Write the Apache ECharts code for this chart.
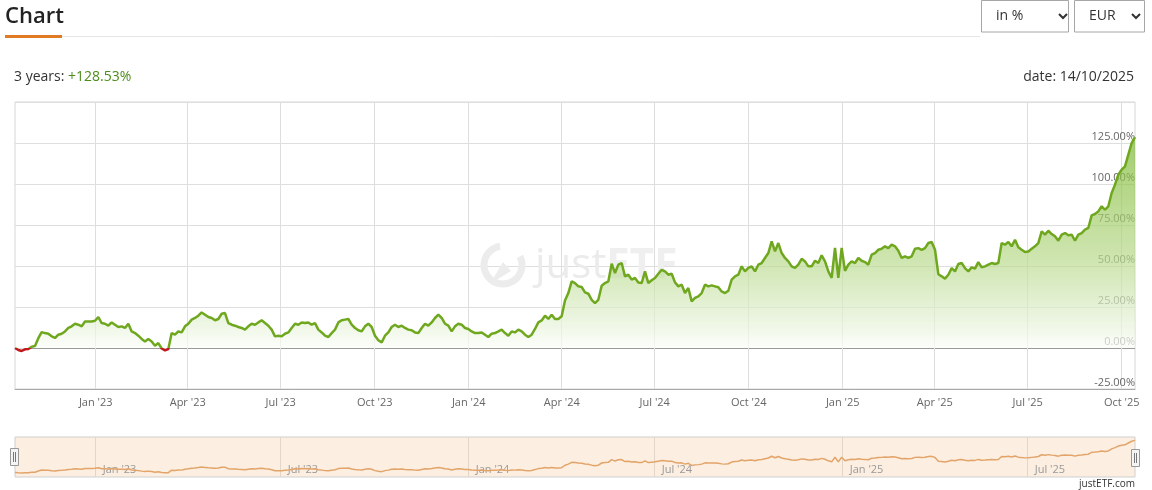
<!DOCTYPE html>
<html><head><meta charset="utf-8">
<script src="https://cdn.jsdelivr.net/npm/echarts@6/dist/echarts.min.js"></script>
<style>html,body{margin:0;padding:0;background:#fff;}#c{width:1152px;height:490px;}</style>
</head><body><div id="c"></div>
<script>
// ---- data ----
const startDate = '2022-10-14';
const endDate = '2025-10-14';
const periodLabel = '3 years';
const periodReturn = '+128.53%';
const dateLabel = '14/10/2025';
const selectLabels = ['in %', 'EUR'];

// cumulative performance in %, sampled evenly from startDate to endDate
const perfValues = [
  0, -1.2, -1.8, -0.8, -0.6, 0.8, 1.2, 6, 9.7, 9.1,
  8.7, 7.1, 6.1, 8.1, 8.7, 10.1, 12.2, 13.2, 14.8, 14.2,
  13.2, 16.2, 16.2, 16.2, 16.6, 18.9, 15.2, 14.8, 13.6, 15.6,
  14.2, 12.8, 13.2, 12.2, 14.8, 10.1, 9.1, 7.5, 5.5, 4,
  5.5, 4, 1.4, 3, -0.3, -1.4, -0.6, 9.1, 8.1, 10.1,
  9.5, 13.2, 14.8, 17.3, 18.3, 19.7, 21.7, 20.3, 18.9, 18.3,
  16.9, 17.7, 20.9, 21.3, 15.2, 14.2, 13.6, 12.8, 12.2, 11.2,
  13.2, 14.8, 14.2, 15.6, 16.9, 15.2, 13.6, 11.2, 7.1, 7.5,
  7.1, 8.7, 9.5, 12.2, 14.8, 14.2, 15.6, 15.2, 15.6, 14.2,
  15.2, 11.2, 9.5, 7.5, 6.7, 9.1, 11.2, 15.6, 16.9, 17.3,
  17.7, 14.2, 12.2, 10.8, 10.1, 13.2, 14.8, 12.8, 7.5, 4.7,
  3.4, 7.5, 9.5, 12.8, 14.2, 12.8, 13.6, 12.2, 11.2, 10.8,
  9.5, 9.1, 12.2, 14.8, 13.6, 15.6, 18.3, 20.3, 18.3, 14.8,
  13.6, 10.1, 13.2, 14.8, 14.2, 12.2, 11.6, 10.1, 9.1,
  9.1, 9.5, 8.1, 6.7, 8.7, 9.1, 10.1, 11.2, 9.1, 7.5,
  10.1, 9.5, 11.2, 10.1, 8.1, 6.7, 8.1, 11.6, 15.6, 16.8,
  19.7, 17.7, 20.3, 17.7, 17.7, 19.3, 29, 33.5, 40.6, 39.6,
  37.6, 37.2, 33.9, 33.1, 29.4, 27.4, 29.4, 38, 39.6, 40.6,
  51.4, 45.7, 50.8, 51.8, 43.7, 44.7, 41.7, 42.7, 40, 39.6,
  46.7, 39.6, 41.3, 42.7, 45.3, 47.7, 46.7, 44.7, 45.3, 40,
  37.6, 38.6, 33.5, 36.6, 28.4, 30.5, 31.5, 33.5, 38.6,
  37.6, 38.2, 37.6, 37, 34.5, 33.5, 34.9, 41.7, 43.7, 44.7,
  49.8, 46.7, 48.8, 49.8, 46.7, 50.8, 51.8, 54.9, 57.9, 65,
  58.9, 64, 57.9, 54.9, 52.8, 49.8, 48.8, 50.8, 54.4, 52.8,
  49.8, 49.8, 53.2, 51.8, 56.5, 52.8, 46.7, 42.7, 61, 42.7,
  61, 47, 50.8, 52.8, 51.8, 54.9, 53.2, 52.4, 50.8, 56.9,
  57.9, 59.9, 60.5, 62, 60.9, 63, 62, 59.3, 54.9, 55.9,
  54.9, 55.9, 60.5, 60.9, 59.9, 60.9, 64, 64.6, 59.9,
  45, 43.7, 42.3, 44.7, 48.7, 46.7, 51.2, 51.8, 48.7, 46.7,
  49.2, 48.4, 52.4, 49.2, 49.8, 50.8, 51.8, 51.2, 51.8, 64,
  63, 64.6, 62, 66, 61.4, 59.9, 58.5, 58.9, 60.5, 62,
  64, 71.1, 69.1, 71.5, 69.5, 68.1, 65.4, 69.1, 70.1, 68.7,
  69.1, 65.4, 69.1, 70.1, 72.2, 73.2, 80.9, 81.7, 83.3, 86.4,
  84.3, 86.4, 94.5, 99.6, 105.7, 108.7, 110.7, 117.9, 125, 128.53
];

const axisTickDates = ['2023-01-01','2023-04-01','2023-07-01','2023-10-01','2024-01-01','2024-04-01','2024-07-01','2024-10-01','2025-01-01','2025-04-01','2025-07-01','2025-10-01'];
const axisTickLabels = ["Jan '23","Apr '23","Jul '23","Oct '23","Jan '24","Apr '24","Jul '24","Oct '24","Jan '25","Apr '25","Jul '25","Oct '25"];
const navTickDates = ['2023-01-01','2023-07-01','2024-01-01','2024-07-01','2025-01-01','2025-07-01'];
const navTickLabels = ["Jan '23","Jul '23","Jan '24","Jul '24","Jan '25","Jul '25"];
const yMin = -25, yMax = 150, yStep = 25;

// ---- build ----
function ts(s){const p=s.split('-').map(Number);return Date.UTC(p[0],p[1]-1,p[2]);}
const t0 = ts(startDate), t1 = ts(endDate);
const stepMs = (t1 - t0) / (perfValues.length - 1);
const seriesData = perfValues.map((v,i)=>[t0 + i*stepMs, v]);
const axisTickMs = axisTickDates.map(ts);
const navTickMs = navTickDates.map(ts);
function lab(ms, arr, labels){
  let best=-1, bd=Infinity;
  arr.forEach((t,i)=>{const d=Math.abs(t-ms); if(d<bd){bd=d;best=i;}});
  return (best>=0 && bd<86400000) ? labels[best] : '';
}
// split line colours: the 0% line is darker
const yTickCount = Math.round((yMax - yMin) / yStep) + 1;
const splitColors = [];
for (let i = 0; i < yTickCount; i++) splitColors.push(yMin + i*yStep === 0 ? '#9a9a9a' : '#dedede');

const FONT = '"Open Sans", "Noto Sans", sans-serif';
const chart = echarts.init(document.getElementById('c'), null, {renderer:'canvas'});
const green = '#6fa81f', red = '#c0181e';

chart.setOption({
  animation:false,
  textStyle:{fontFamily:FONT},
  grid:[
    {left:15, right:17, top:102, height:287, show:true, borderColor:'#d6d6d6', borderWidth:1, containLabel:false},
    {left:15, right:17, top:437, height:40, show:true, backgroundColor:'#fcefe2', borderColor:'#cfcfcf', borderWidth:1}
  ],
  xAxis:[
    {type:'value', gridIndex:0, min:t0, max:t1, scale:true,
     axisLine:{show:true, onZero:false, lineStyle:{color:'#a8a8a8'}},
     axisTick:{show:false, customValues:axisTickMs},
     splitLine:{show:true, lineStyle:{color:'#dedede'}},
     axisLabel:{customValues:axisTickMs, formatter:(v)=>lab(v,axisTickMs,axisTickLabels), color:'#666', fontSize:11, margin:8, fontFamily:FONT, showMinLabel:true, showMaxLabel:true}
    },
    {type:'value', gridIndex:1, min:t0, max:t1, scale:true,
     axisLine:{show:false, onZero:false},
     axisTick:{show:true, customValues:navTickMs, inside:true, length:40, lineStyle:{color:'#e2d6ca'}},
     splitLine:{show:false},
     axisLabel:{customValues:navTickMs, inside:true, formatter:(v)=>lab(v,navTickMs,navTickLabels), color:'#999', fontSize:11, margin:2, align:'left', padding:[0,0,0,7], fontFamily:FONT}
    }
  ],
  yAxis:[
    {type:'value', gridIndex:0, min:yMin, max:yMax, interval:yStep, position:'right',
     axisLine:{show:false}, axisTick:{show:false},
     splitLine:{show:true, lineStyle:{color:splitColors}},
     axisLabel:{inside:true, margin:0, color:'#666', fontSize:11, verticalAlign:'bottom', padding:[0,0,1,0], fontFamily:FONT,
       formatter:(v)=> v>=yMax ? '' : v.toFixed(2)+'%'}
    },
    {type:'value', gridIndex:1, min:-18, max:142, show:false}
  ],
  visualMap:{show:false, seriesIndex:0, dimension:1, pieces:[{lt:0, color:red},{gte:0, lte:yMax, color:green}], outOfRange:{color:green}},
  series:[
    {type:'line', xAxisIndex:0, yAxisIndex:0, data:seriesData, symbol:'none', showSymbol:false, z:3,
     lineStyle:{width:2.5},
     areaStyle:{color:new echarts.graphic.LinearGradient(0,102,0,348,[
       {offset:0,color:'#66a41c'},{offset:0.3,color:'#8ec24a'},{offset:0.66,color:'#bcdb92'},{offset:0.9,color:'#e6f1d8'},{offset:1,color:'#fbfdf8'}],true)}
    },
    {type:'line', xAxisIndex:1, yAxisIndex:1, data:seriesData, symbol:'none', showSymbol:false,
     lineStyle:{width:1.5, color:'#e2a469'}, itemStyle:{color:'#e2a469'}}
  ],
  graphic:[
    {type:'arc', z:1, shape:{cx:503, cy:265, r:19, startAngle:-Math.PI*0.15, endAngle:Math.PI*1.45, clockwise:true}, style:{stroke:'#ececec', lineWidth:7, fill:null}},
    {type:'polygon', z:1, shape:{points:[[490,284],[503,262],[511,271]]}, style:{fill:'#ececec'}},
    {type:'text', z:1, x:535, y:266, style:{text:'{a|just}{b|ETF}', verticalAlign:'middle', rich:{a:{fontSize:42, fill:'#ebebeb', fontFamily:FONT}, b:{fontSize:42, fontWeight:'bold', fill:'#efefef', fontFamily:FONT}}}},
    {type:'line', z:10, shape:{x1:5, y1:36.5, x2:980, y2:36.5}, style:{stroke:'#e6e6e6', lineWidth:1}},
    {type:'rect', z:11, shape:{x:5, y:35, width:57, height:3}, style:{fill:'#e07b24'}},
    {type:'text', z:10, x:5, y:17, style:{text:'Chart', font:'600 22px '+FONT, fill:'#222', verticalAlign:'middle'}},
    {type:'rect', z:10, shape:{x:981.5, y:0.5, width:87, height:31.5}, style:{fill:'#fff', stroke:'#a6a6a6', lineWidth:1}},
    {type:'text', z:11, x:996, y:16, style:{text:selectLabels[0], font:'14px '+FONT, fill:'#333', verticalAlign:'middle'}},
    {type:'polyline', z:11, shape:{points:[[1059,14],[1063,18],[1067,14]]}, style:{stroke:'#333', lineWidth:2, fill:null}},
    {type:'rect', z:10, shape:{x:1074.5, y:0.5, width:70, height:31.5}, style:{fill:'#fff', stroke:'#a6a6a6', lineWidth:1}},
    {type:'text', z:11, x:1089, y:16, style:{text:selectLabels[1], font:'14px '+FONT, fill:'#333', verticalAlign:'middle'}},
    {type:'polyline', z:11, shape:{points:[[1132,14],[1136,18],[1140,14]]}, style:{stroke:'#333', lineWidth:2, fill:null}},
    {type:'text', z:10, x:14, y:77, style:{text:'{a|'+periodLabel+': }{b|'+periodReturn+'}', verticalAlign:'middle', rich:{a:{fontSize:14, fill:'#333', fontFamily:FONT}, b:{fontSize:14, fill:'#4d8c1c', fontFamily:FONT}}}},
    {type:'text', z:10, x:1134, y:77, style:{text:'date: '+dateLabel, font:'14px '+FONT, fill:'#333', align:'right', verticalAlign:'middle'}},
    {type:'rect', z:100, shape:{x:10.5, y:448.5, width:8, height:17}, style:{fill:'#f4f4f4', stroke:'#999', lineWidth:1}},
    {type:'line', z:101, shape:{x1:13.5, y1:452, x2:13.5, y2:462}, style:{stroke:'#777', lineWidth:1}},
    {type:'line', z:101, shape:{x1:15.5, y1:452, x2:15.5, y2:462}, style:{stroke:'#777', lineWidth:1}},
    {type:'rect', z:100, shape:{x:1131.5, y:449.5, width:8, height:17}, style:{fill:'#f4f4f4', stroke:'#999', lineWidth:1}},
    {type:'line', z:101, shape:{x1:1134.5, y1:453, x2:1134.5, y2:463}, style:{stroke:'#777', lineWidth:1}},
    {type:'line', z:101, shape:{x1:1136.5, y1:453, x2:1136.5, y2:463}, style:{stroke:'#777', lineWidth:1}},
    {type:'text', z:10, x:1135, y:484, style:{text:'justETF.com', font:'10px '+FONT, fill:'#333', align:'right', verticalAlign:'middle'}}
  ]
});
</script>
</body></html>
